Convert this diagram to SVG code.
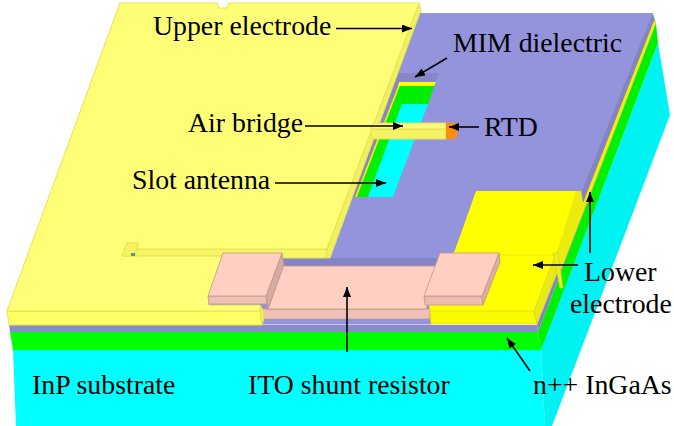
<svg xmlns="http://www.w3.org/2000/svg" width="674" height="426" viewBox="0 0 674 426">
<defs>
<marker id="ah" viewBox="0 0 10 10" refX="10" refY="5" markerWidth="10" markerHeight="8" markerUnits="userSpaceOnUse" orient="auto" preserveAspectRatio="none"><path d="M0 0L10 5L0 10Z" fill="#000"/></marker>
</defs>
<style>
text{font-family:"Liberation Serif","Times New Roman",serif;font-size:27.8px;fill:#000}
.c{stroke:#000;stroke-width:1.6;fill:none;marker-end:url(#ah)}
.ue{stroke:#e4e450;stroke-width:1;stroke-linejoin:round}
.pk{stroke:#c4958b;stroke-width:.8;stroke-linejoin:round}
.le{stroke:#d8d820;stroke-width:.7;stroke-linejoin:round}
</style>
<rect width="674" height="426" fill="#fff"/>
<g id="substrate">
<polygon points="13,350 541,350 545,426 16,426" fill="#00ffff"/>
<polygon points="541,349 658,43 670,115 552,426 545,426" fill="#00f2f2"/>
</g>
<g id="ingaas">
<polygon points="10,332 538,332 541,350 13,350" fill="#00ff00"/>
<polygon points="538,332 656,23 658,43 541,350" fill="#00f000"/>
</g>
<g id="dielectric">
<polygon points="300,13 652.7,13 537,324 200,324" fill="#9494dc"/>
<polygon points="9,325 537,325 538,332 10,332" fill="#8a8acc"/>
<polygon points="263,318 430,318 431,324.500 537,324.500 262,324.500" fill="#9494dc"/>
<polygon points="537,324 559,268 556,268 583,203 582,191 652.700,12.700 656,23 538,332" fill="#8484c4"/>
<polygon points="654.300,20 656,23 561,270 558,262 583,203" fill="#f0f000"/>
<polygon points="282,258 438,258 434,266 282,266" fill="#8484c8"/>
</g>
<g id="slot-opening">
<polygon points="397,73 439,73 393,197 351,197" fill="#8686c8"/>
<polygon points="399,82 436,82 434,86 398,86" fill="#ffff00"/>
<polygon points="398,86 400,86 357,197 355,197" fill="#f0f000"/>
<polygon points="400,86 434,86 428,104 368,197 357,197" fill="#00f000"/>
<polygon points="402,104 428,104 393,197 368,197" fill="#00ffff"/>
<polygon points="400,86 434,86 428,104 402,104" fill="#00ee00"/>
</g>
<g id="shunt-resistor">
<polygon points="262,309 430,309 430,319 264,319" fill="#efc0b5" class="pk"/>
<polygon points="283,266 440,266 426,309 268,309" fill="#ffd0c2" class="pk"/>
</g>
<g id="lower-electrode">
<polygon points="476,191 581,191 556,255 534,311 430,311 429,305 455,250" fill="#ffff00"/>
<polygon points="430,311 534,311 537,324 431,324" fill="#fbfb00" class="le"/>
<polygon points="576,191 581,191 583,204 560,270 557,253" fill="#ebeb10"/>
<polygon points="555,255 534,311 537,324 558,270" fill="#e9e918" class="le"/>
<polygon points="553,253 558,253 563,288 560,288 555,262" fill="#eded20" class="le"/>
<path d="M499,255H555" stroke="#d8d820" stroke-width=".7" fill="none"/>
</g>
<g id="upper-electrode">
<polygon points="419,3 421,10 330,258 326,258 327,249" fill="#f0f060" class="ue"/>
<polygon points="135,249 327,249 326,258 282,258 282,256 135,256" fill="#f6f666" class="ue"/>
<polygon points="7,311 260,311 262,325 9,325" fill="#ffff66" class="ue"/>
<polygon points="260,305 263,310 264,318 262,325 260,311" fill="#f2f25a" class="ue"/>
<polygon points="120,3 217,3 219,8 227,8 229,3 419,3 327,249 138,249 138,243 127,243 122,256 225,256 208,305 260,305 260,311 7,311" fill="#ffff77" class="ue"/>
<polygon points="127,243 138,243 135,256 122,256" fill="#f4f460" class="ue"/>
<rect x="131" y="253" width="4" height="3" fill="#5a9a90"/>
</g>
<g id="air-bridge">
<polygon points="371,129 446,129 446,139 372,139" fill="#f6f264" class="ue"/>
<polygon points="373,123 446,123 446,129 371,129" fill="#fbf880" class="ue"/>
</g>
<g id="rtd">
<polygon points="446,123 457,123 458,129 456,139 446,139" fill="#ff8c10"/>
</g>
<g id="pads">
<polygon points="208,296 266,296 267,304 209,304" fill="#efc0b5" class="pk"/>
<polygon points="282,253 284,265 268,309 266,296" fill="#d6aba2" class="pk"/>
<polygon points="223,253 282,253 266,296 208,296" fill="#ffd0c2" class="pk"/>
<polygon points="424,296 482,296 483,305 425,305" fill="#ecbcb0" class="pk"/>
<polygon points="499,253 500,262 483,305 482,296" fill="#dcaea4" class="pk"/>
<polygon points="440,253 499,253 482,296 424,296" fill="#ffd0c2" class="pk"/>
</g>
<g id="connectors">
<line class="c" x1="336" y1="28.500" x2="412" y2="28.500"/>
<line class="c" x1="447" y1="58" x2="415" y2="77"/>
<line class="c" x1="305" y1="126" x2="403" y2="126"/>
<line class="c" x1="479" y1="127" x2="449" y2="127"/>
<line class="c" x1="275" y1="183" x2="386" y2="183"/>
<line class="c" x1="578" y1="265" x2="533" y2="265"/>
<line class="c" x1="590" y1="253" x2="590" y2="192"/>
<line class="c" x1="347" y1="352" x2="347" y2="287"/>
<line class="c" x1="530" y1="371" x2="507" y2="338"/>
</g>
<g id="labels">
<text x="153" y="35">Upper electrode</text>
<text x="453" y="52">MIM dielectric</text>
<text x="188" y="132">Air bridge</text>
<text x="484" y="136">RTD</text>
<text x="132" y="189">Slot antenna</text>
<text x="584" y="281">Lower</text>
<text x="570" y="313">electrode</text>
<text x="32" y="394">InP substrate</text>
<text x="248" y="394">ITO shunt resistor</text>
<text x="533" y="394">n++ InGaAs</text>
</g>
</svg>
